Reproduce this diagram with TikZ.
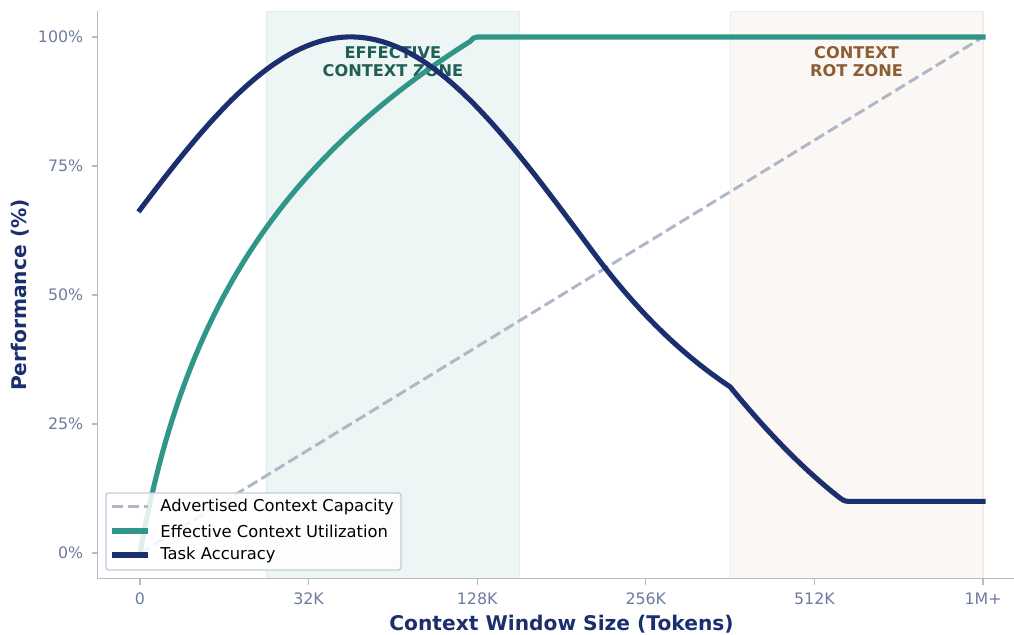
\documentclass[tikz,border=0pt]{standalone}
\usepackage{fontspec}
\setmainfont{DejaVu Sans}

\definecolor{navy}{HTML}{1B2F6E}
\definecolor{tealline}{HTML}{2F9688}
\definecolor{advgray}{HTML}{B0B8C8}
\definecolor{spine}{HTML}{B4BCCC}
\definecolor{ticktext}{HTML}{6E7BA0}
\definecolor{legedge}{HTML}{C5CBD8}
\definecolor{effzone}{HTML}{EDF6F5}
\definecolor{effedge}{HTML}{DDEDEA}
\definecolor{rotzone}{HTML}{FBF7F4}
\definecolor{rotedge}{HTML}{F3EAE4}
\definecolor{efftext}{HTML}{1F5F56}
\definecolor{rottext}{HTML}{8B5E34}

\begin{document}
\begin{tikzpicture}[x=3.372cm, y=0.1032cm,
    ticktxt/.style={text=ticktext, font=\fontsize{9}{11}\selectfont},
    axlabel/.style={text=navy, font=\bfseries\fontsize{11.5}{14}\selectfont},
    zonetxt/.style={font=\bfseries\fontsize{9.2}{10.6}\selectfont, align=center},
    legtxt/.style={font=\fontsize{9.3}{11}\selectfont, anchor=west, inner sep=0pt},
    acc/.style={navy, line width=2.9pt, line cap=rect, line join=round},
    eff/.style={tealline, line width=2.9pt, line cap=rect, line join=round},
    adv/.style={advgray, line width=1.7pt, dash pattern=on 6.3pt off 2.7pt}]
    \useasboundingbox (-0.8304,-15.89) rectangle (5.1838,107.17);
    % --- bandas de fondo
    \draw[effedge, fill=effzone, line width=0.6pt] (0.75,-5) rectangle (2.25,105);
    \draw[rotedge, fill=rotzone, line width=0.6pt] (3.5,-5) rectangle (5,105);
    \node[zonetxt, text=efftext] (effz) at (1.5,95.25) {EFFECTIVE\\CONTEXT ZONE};
    \node[zonetxt, text=rottext] (rotz) at (4.25,95.25) {CONTEXT\\ROT ZONE};
    % --- capacidad anunciada: crece en linea recta
    \draw[adv] (0,0) -- (5,100);
    % --- utilizacion efectiva: satura en 128K
    \draw[eff, samples=90, domain=0:1.96]
         plot (\x, {100*ln(1+4*\x)/ln(9)})
         .. controls (1.98,99.9) .. (2.0,100) -- (5,100);
    % --- precision: campana hasta ~256K, luego cae y se queda en el suelo
    \draw[acc, samples=80, domain=0:2.7]
         plot (\x, {100*exp(-(\x-1.25)*(\x-1.25)/3.83)})
         .. controls (2.97,46.0) and (3.23,38.1) .. (3.5,32.2)
         .. controls (3.71,23.8) and (3.93,16.3) .. (4.15,10.7)
         .. controls (4.18,10.0) .. (4.23,10) -- (5,10);
    % --- ejes
    \draw[spine, line width=0.7pt] (-0.25,105) -- (-0.25,-5) -- (5.25,-5);
    \foreach \v in {0,25,50,75,100} {
        \draw[spine, line width=0.7pt] (-0.25,\v) -- (-0.286,\v);
        \node[ticktxt, anchor=east] (yt\v) at (-0.30,\v) {\v\%};
    }
    \foreach \i/\lab in {0/0,1/32K,2/128K,3/256K,4/512K,5/1M+} {
        \draw[spine, line width=0.7pt] (\i,-5) -- (\i,-6.2);
        \node[ticktxt, anchor=north] (xt\i) at (\i,-6.6) {\lab};
    }
    \node[axlabel] (xlab) at (2.5,-13.76) {Context Window Size (Tokens)};
    \node[axlabel, rotate=90] (ylab) at (-0.712,50) {Performance (\%)};
    % --- leyenda
    \draw[legedge, fill=white, fill opacity=0.85, line width=0.8pt,
          rounded corners=1.5pt] (-0.2017,-3.29) rectangle (1.5481,11.63);
    \draw[adv] (-0.166,8.98) -- (0.047,8.98);
    \node[legtxt] (ladv) at (0.119,8.98) {Advertised Context Capacity};
    \draw[eff, line cap=butt] (-0.166,4.26) -- (0.047,4.26);
    \node[legtxt] (leff) at (0.119,4.26) {Effective Context Utilization};
    \draw[acc, line cap=butt] (-0.166,-0.39) -- (0.047,-0.39);
    \node[legtxt] (lacc) at (0.119,-0.39) {Task Accuracy};
\end{tikzpicture}
\end{document}
